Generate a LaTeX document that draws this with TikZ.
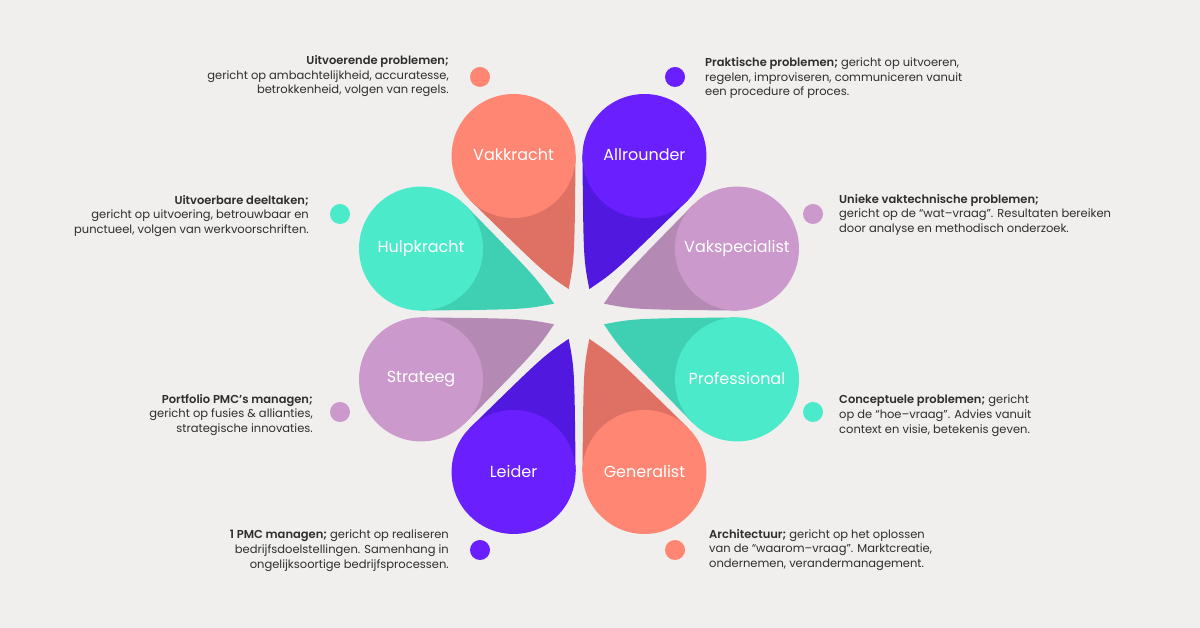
\documentclass[tikz,border=0pt]{standalone}
\usepackage{fontspec}
\setmainfont{Poppins}[BoldFont={Poppins SemiBold}]
\usetikzlibrary{calc}
\definecolor{bg}{HTML}{F0EFED}
\definecolor{txt}{HTML}{2E2E2E}
\definecolor{coralL}{HTML}{FF8672}
\definecolor{coralD}{HTML}{DF7064}
\definecolor{purpL}{HTML}{6A1FFF}
\definecolor{purpD}{HTML}{5118E0}
\definecolor{tealL}{HTML}{4AEACB}
\definecolor{tealD}{HTML}{3FCFB2}
\definecolor{lilacL}{HTML}{CB99CB}
\definecolor{lilacD}{HTML}{B48AB5}
\begin{document}
\begin{tikzpicture}[x=1pt,y=1pt,
  desc/.style={inner sep=0, font=\fontsize{11.5}{14.6}\selectfont, text=txt},
  descL/.style={desc, anchor=north west, align=left},
  descR/.style={desc, anchor=north east, align=right},
  lbl/.style={circle, inner sep=0, minimum size=124pt, text=white, font=\fontsize{16}{18}\selectfont},
  dot/.style={circle, inner sep=0, minimum size=20pt}]
\fill[bg] (0,0) rectangle (1200,628);
\useasboundingbox (0,0) rectangle (1200,628);
\coordinate (O) at (579,314);
\foreach \a/\d/\l/\t/\n in {
  112.5/coralD/coralL/Vakkracht/vak,
  67.5/purpD/purpL/Allrounder/all,
  22.5/lilacD/lilacL/Vakspecialist/vsp,
  -22.5/tealD/tealL/Professional/pro,
  -67.5/coralD/coralL/Generalist/gen,
  -112.5/purpD/purpL/Leider/lei,
  -157.5/lilacD/lilacL/Strateeg/str,
  157.5/tealD/tealL/Hulpkracht/hul}{
  \fill[\d] ($(O)+(\a:171)$) -- ($(O)+(\a:171)+(\a+112.5:62)$)
     .. controls ($(O)+(\a+22.5:55)+(\a-67.5:4.5)$) .. ($(O)+(\a:27)$)
     .. controls ($(O)+(\a-22.5:55)+(\a+67.5:4.5)$) .. ($(O)+(\a:171)+(\a-112.5:62)$) -- cycle;
  \node[lbl, fill=\l] (\n) at ($(O)+(\a:171)$) {\raisebox{2pt}{\t}};
}
% dots
\node[dot, fill=coralL] (d1) at (480,551) {};
\node[dot, fill=purpL] (d2) at (675,551) {};
\node[dot, fill=tealL] (d3) at (340,414) {};
\node[dot, fill=lilacL] (d4) at (813,414) {};
\node[dot, fill=lilacL] (d5) at (340,216) {};
\node[dot, fill=tealL] (d6) at (813,216) {};
\node[dot, fill=purpL] (d7) at (480,78) {};
\node[dot, fill=coralL] (d8) at (675,78) {};
% texts
\node[descR] (t1) at (449,572.5) {\textbf{Uitvoerende problemen;}\\gericht op ambachtelijkheid, accuratesse,\\betrokkenheid, volgen van regels.};
\node[descL] (t2) at (705,570.5) {\textbf{Praktische problemen;} gericht op uitvoeren,\\regelen, improviseren, communiceren vanuit\\een procedure of proces.};
\node[descR] (t3) at (309,433) {\textbf{Uitvoerbare deeltaken;}\\gericht op uitvoering, betrouwbaar en\\punctueel, volgen van werkvoorschriften.};
\node[descL] (t4) at (839,434) {\textbf{Unieke vaktechnische problemen;}\\gericht op de “wat–vraag”. Resultaten bereiken\\door analyse en methodisch onderzoek.};
\node[descR] (t5) at (313,234) {\textbf{Portfolio PMC’s managen;}\\gericht op fusies \& allianties,\\strategische innovaties.};
\node[descL] (t6) at (839,233) {\textbf{Conceptuele problemen;} gericht\\op de “hoe–vraag”. Advies vanuit\\context en visie, betekenis geven.};
\node[descR] (t7) at (449,98) {\textbf{1 PMC managen;} gericht op realiseren\\bedrijfsdoelstellingen. Samenhang in\\ongelijksoortige bedrijfsprocessen.};
\node[descL] (t8) at (709,99) {\textbf{Architectuur;} gericht op het oplossen\\van de “waarom–vraag”. Marktcreatie,\\ondernemen, verandermanagement.};
\end{tikzpicture}
\end{document}
